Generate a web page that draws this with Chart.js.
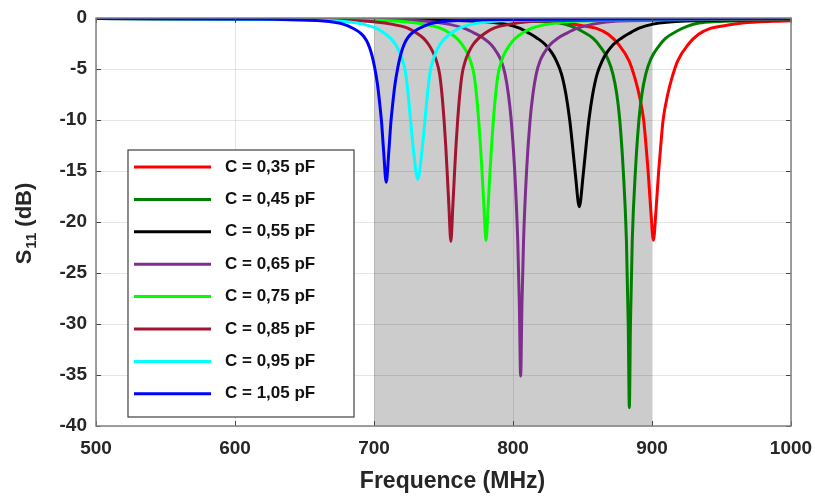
<!DOCTYPE html>
<html>
<head>
<meta charset="utf-8">
<script src="https://cdn.jsdelivr.net/npm/chart.js@4.4.1/dist/chart.umd.min.js"></script>
<style>
  html, body { margin: 0; padding: 0; background: #fff; }
  canvas { display: block; }
</style>
</head>
<body>
<canvas id="s11Chart" width="815" height="497"></canvas>
<script>
// values (MHz, dB)
const capLabels = ['C = 0,35 pF', 'C = 0,45 pF', 'C = 0,55 pF', 'C = 0,65 pF', 'C = 0,75 pF', 'C = 0,85 pF', 'C = 0,95 pF', 'C = 1,05 pF'];
const capColors = ['#ff0000', '#008000', '#000000', '#7e2f8e', '#00ff00', '#a2142f', '#00ffff', '#0000ff'];

const f035 = [500, 700, 780, 815, 837, 850, 859.5, 868.5, 876, 883.5, 887.5, 890.7, 894, 895.7, 897.2, 899.1, 901, 902.9, 904.8, 906.3, 908, 911.3, 914.5, 918.5, 926, 933.5, 942.5, 952, 965, 987, 1000];
const s035 = [-0.05, -0.1, -0.2, -0.33, -0.5, -0.75, -1.0, -1.6, -2.6, -4.2, -5.8, -7.5, -10, -12.5, -15, -18.8, -21.8, -18.8, -15, -12.5, -10, -7.5, -5.8, -4.2, -2.6, -1.6, -1.0, -0.75, -0.5, -0.33, -0.28];

const f045 = [500, 700, 780, 821.7, 833.7, 841.7, 849.7, 857.7, 862.7, 868.2, 871.9, 874.7, 876.8, 879.3, 881.6, 882.9, 883.7, 884.5, 885.8, 888.1, 890.6, 892.7, 895.5, 899.2, 904.7, 909.7, 917.7, 925.7, 933.7, 945.7, 1000];
const s045 = [-0.06, -0.12, -0.22, -0.35, -0.5, -0.8, -1.3, -2.0, -2.8, -4.0, -5.5, -7.5, -10, -14.9, -21.8, -30, -38.2, -30, -21.8, -14.9, -10, -7.5, -5.5, -4.0, -2.8, -2.0, -1.3, -0.8, -0.5, -0.35, -0.17];

const f055 = [500, 700, 770.7, 794.7, 804.7, 811.7, 817.7, 823.2, 827.9, 831.2, 834.9, 838.1, 840.8, 842.8, 845, 847.7, 850.4, 852.6, 854.6, 857.3, 860.5, 864.2, 867.5, 872.2, 877.7, 883.7, 890.7, 900.7, 924.7, 1000];
const s055 = [-0.06, -0.13, -0.3, -0.6, -1.0, -1.5, -2.0, -2.6, -3.4, -4.2, -5.5, -7.5, -10, -12.5, -15.5, -18.5, -15.5, -12.5, -10, -7.5, -5.5, -4.2, -3.4, -2.6, -2.0, -1.5, -1.0, -0.6, -0.3, -0.15];

const f065 = [500, 680, 735.5, 753.5, 764.5, 772.5, 779, 784.2, 788.5, 791.5, 794.3, 796.7, 798.7, 801.2, 803.4, 804.55, 805.5, 806.45, 807.6, 809.8, 812.3, 814.3, 816.7, 819.5, 822.5, 826.8, 832, 838.5, 846.5, 857.5, 875.5, 1000];
const s065 = [-0.05, -0.14, -0.3, -0.6, -1.0, -1.5, -2.0, -2.6, -3.4, -4.2, -5.5, -7.5, -10, -14.9, -21.8, -28, -35.1, -28, -21.8, -14.9, -10, -7.5, -5.5, -4.2, -3.4, -2.6, -2.0, -1.5, -1.0, -0.6, -0.3, -0.1];

const f075 = [500, 640, 714.6, 735.6, 747.6, 754.6, 759.6, 763.4, 767, 769.4, 771.9, 773.7, 775.3, 776.6, 777.7, 779.1, 780.6, 782.1, 783.5, 784.6, 785.9, 787.5, 789.3, 791.8, 794.2, 797.8, 801.6, 806.6, 813.6, 825.6, 846.6, 1000];
const s075 = [-0.05, -0.12, -0.3, -0.6, -1.0, -1.5, -2.0, -2.6, -3.4, -4.2, -5.5, -7.5, -10, -12.5, -15, -18.5, -21.8, -18.5, -15, -12.5, -10, -7.5, -5.5, -4.2, -3.4, -2.6, -2.0, -1.5, -1.0, -0.6, -0.3, -0.08];

const f085 = [500, 620, 692.3, 712.3, 724.3, 730.8, 735.7, 739.3, 742.6, 744.9, 747.2, 748.9, 750.4, 751.6, 752.6, 753.9, 755.3, 756.7, 758, 759, 760.2, 761.7, 763.4, 765.7, 768, 771.3, 775.2, 779.8, 786.3, 798.3, 818.3, 1000];
const s085 = [-0.05, -0.11, -0.3, -0.6, -1.0, -1.5, -2.0, -2.6, -3.4, -4.2, -5.5, -7.5, -10, -12.5, -15, -18.5, -21.9, -18.5, -15, -12.5, -10, -7.5, -5.5, -4.2, -3.4, -2.6, -2.0, -1.5, -1.0, -0.6, -0.3, -0.07];

const f095 = [500, 610, 673.5, 692, 701.5, 707.5, 712, 715.5, 718.5, 720.7, 722.5, 724.5, 726.3, 728.3, 731.5, 734.7, 736.7, 738.5, 740.5, 742.3, 744.5, 747.5, 751, 755.5, 761.5, 771, 789.5, 850, 1000];
const s095 = [-0.05, -0.12, -0.3, -0.6, -1.0, -1.5, -2.0, -2.6, -3.4, -4.2, -5.2, -7.4, -10, -12.8, -15.8, -12.8, -10, -7.4, -5.2, -4.2, -3.4, -2.6, -2.0, -1.5, -1.0, -0.6, -0.3, -0.14, -0.06];

const f105 = [500, 600, 663.8, 677.8, 684.8, 691.3, 694.6, 696.8, 698.8, 700.4, 702.5, 704.2, 705.5, 706.9, 708.8, 710.7, 712.1, 713.4, 715.1, 717.2, 718.8, 720.8, 723, 726.3, 732.8, 739.8, 753.8, 800, 1000];
const s105 = [-0.05, -0.1, -0.3, -0.6, -1.0, -1.6, -2.2, -2.9, -3.8, -4.8, -6.5, -8.5, -10.3, -13, -16.1, -13, -10.3, -8.5, -6.5, -4.8, -3.8, -2.9, -2.2, -1.6, -1.0, -0.6, -0.3, -0.14, -0.05];

const freqs = [f035, f045, f055, f065, f075, f085, f095, f105];
const s11s = [s035, s045, s055, s065, s075, s085, s095, s105];

const bandRange = [700, 900];
const xTicks = [500, 600, 700, 800, 900, 1000];
const yTicks = [0, -5, -10, -15, -20, -25, -30, -35, -40];

const FONT = "'Liberation Sans', Arial, sans-serif";

const datasets = capLabels.map((lab, i) => ({
    label: lab,
    data: freqs[i].map((f, k) => ({ x: f, y: s11s[i][k] })),
    borderColor: capColors[i],
    borderWidth: 3,
    pointRadius: 0,
    fill: false,
    cubicInterpolationMode: 'monotone',
    order: capLabels.length - i   // last curve (1,05 pF) on top
}));

// grey band 700-900 MHz, under the grid
const bandPlugin = {
    id: 'band',
    beforeDraw(chart) {
        const { ctx, chartArea: a, scales: { x } } = chart;
        const x0 = x.getPixelForValue(bandRange[0]);
        const x1 = x.getPixelForValue(bandRange[1]);
        ctx.save();
        ctx.fillStyle = '#cccccc';
        ctx.fillRect(x0, a.top, x1 - x0, a.bottom - a.top);
        ctx.restore();
    }
};

// box, inward ticks, axis titles and the legend box
const decoPlugin = {
    id: 'deco',
    afterDraw(chart) {
        const { ctx, chartArea: a, scales: { x, y } } = chart;
        ctx.save();
        ctx.strokeStyle = '#444';
        ctx.lineWidth = 1;
        xTicks.forEach(v => {
            const px = Math.round(x.getPixelForValue(v)) + 0.5;
            ctx.beginPath();
            ctx.moveTo(px, a.bottom); ctx.lineTo(px, a.bottom - 5);
            ctx.moveTo(px, a.top); ctx.lineTo(px, a.top + 5);
            ctx.stroke();
        });
        yTicks.forEach(v => {
            const py = Math.round(y.getPixelForValue(v)) + 0.5;
            ctx.beginPath();
            ctx.moveTo(a.left, py); ctx.lineTo(a.left + 5, py);
            ctx.moveTo(a.right, py); ctx.lineTo(a.right - 5, py);
            ctx.stroke();
        });
        ctx.strokeStyle = '#808080';
        ctx.lineWidth = 1.5;
        ctx.strokeRect(a.left, a.top, a.right - a.left, a.bottom - a.top);

        // x title
        ctx.fillStyle = '#262626';
        ctx.font = 'bold 23px ' + FONT;
        ctx.textAlign = 'center';
        ctx.textBaseline = 'middle';
        ctx.fillText('Frequence (MHz)', (a.left + a.right) / 2 + 9, 482);

        // y title with subscript
        ctx.translate(25, (a.top + a.bottom) / 2 + 2);
        ctx.rotate(-Math.PI / 2);
        ctx.textAlign = 'left';
        ctx.font = 'bold 22px ' + FONT;
        const wS = ctx.measureText('S').width;
        const wR = ctx.measureText(' (dB)').width;
        ctx.font = 'bold 15px ' + FONT;
        const wSub = ctx.measureText('11').width;
        const sx = -(wS + wSub + wR) / 2;
        ctx.font = 'bold 22px ' + FONT;
        ctx.fillText('S', sx, 0);
        ctx.font = 'bold 15px ' + FONT;
        ctx.fillText('11', sx + wS + 1, 7);
        ctx.font = 'bold 22px ' + FONT;
        ctx.fillText(' (dB)', sx + wS + wSub + 1, 0);
        ctx.setTransform(1, 0, 0, 1, 0, 0);

        // legend
        const lx = 128, ly = 150, lw = 226, lh = 267;
        ctx.fillStyle = '#fff';
        ctx.fillRect(lx, ly, lw, lh);
        ctx.strokeStyle = '#404040';
        ctx.lineWidth = 1.2;
        ctx.strokeRect(lx, ly, lw, lh);
        ctx.font = 'bold 17px ' + FONT;
        ctx.textAlign = 'left';
        ctx.textBaseline = 'middle';
        capLabels.forEach((lab, i) => {
            const ry = ly + 17 + i * 32.4;
            ctx.strokeStyle = capColors[i];
            ctx.lineWidth = 3;
            ctx.beginPath();
            ctx.moveTo(lx + 6, ry); ctx.lineTo(lx + 83, ry);
            ctx.stroke();
            ctx.fillStyle = '#111';
            ctx.fillText(lab, lx + 97, ry);
        });
        ctx.restore();
    }
};

new Chart(document.getElementById('s11Chart'), {
    type: 'line',
    data: { datasets },
    options: {
        responsive: false,
        animation: false,
        layout: { padding: { top: 18, right: 24, left: 0, bottom: 0 } },
        plugins: { legend: { display: false }, tooltip: { enabled: false } },
        scales: {
            x: {
                type: 'linear', min: 500, max: 1000,
                afterFit: s => { s.height = 71; s.paddingRight = 0; s.paddingLeft = 0; },
                afterBuildTicks: s => { s.ticks = xTicks.map(v => ({ value: v })); },
                grid: { color: 'rgba(0,0,0,0.1)', drawTicks: false },
                border: { display: false },
                ticks: { color: '#262626', padding: 11, maxRotation: 0, callback: v => String(v), font: { family: FONT, size: 19, weight: 'bold' } }
            },
            y: {
                type: 'linear', min: -40, max: 0,
                afterFit: s => { s.width = 96; s.paddingTop = 0; s.paddingBottom = 0; },
                afterBuildTicks: s => { s.ticks = yTicks.map(v => ({ value: v })); },
                grid: { color: 'rgba(0,0,0,0.1)', drawTicks: false },
                border: { display: false },
                ticks: { color: '#262626', padding: 9, callback: v => String(v), font: { family: FONT, size: 19, weight: 'bold' } }
            }
        }
    },
    plugins: [bandPlugin, decoPlugin]
});
</script>
</body>
</html>
